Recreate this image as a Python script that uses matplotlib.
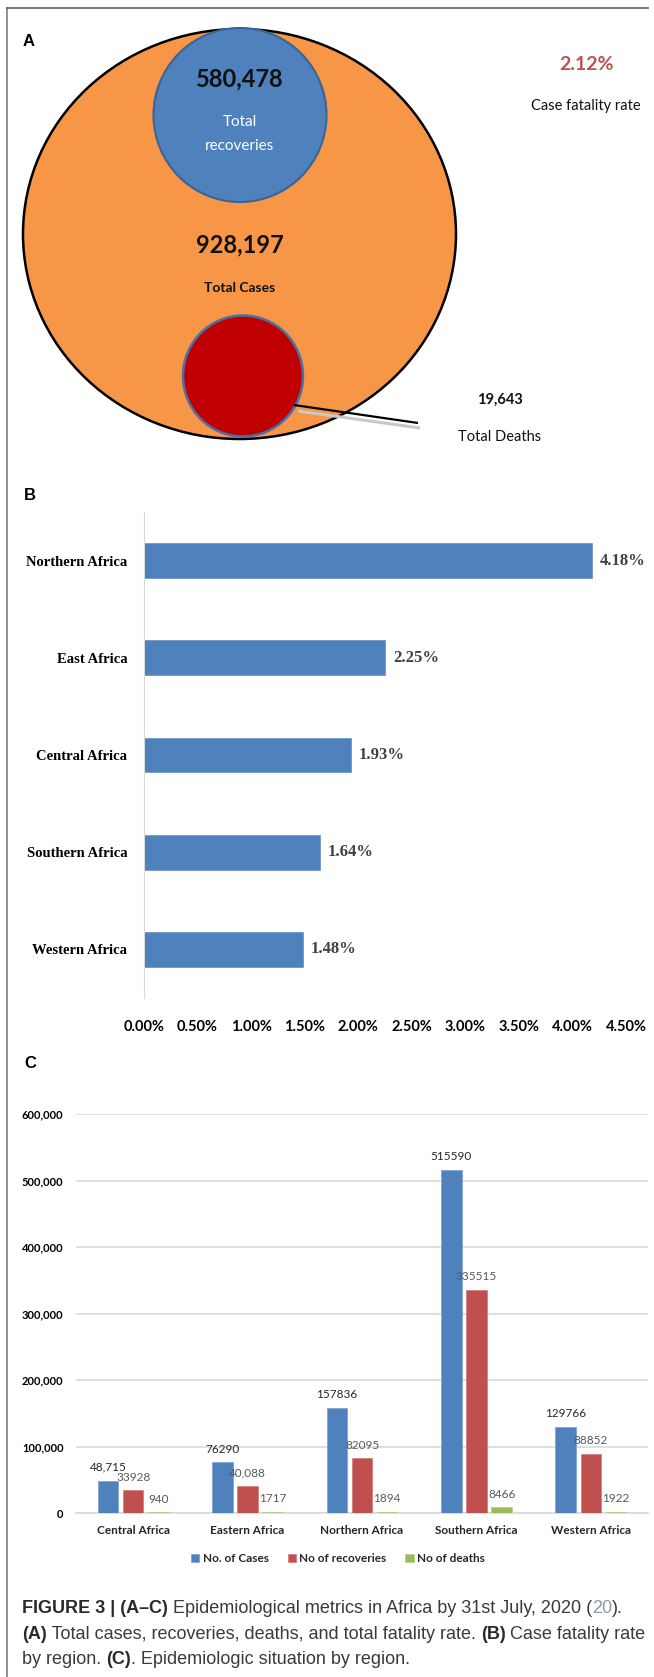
import matplotlib
matplotlib.use('Agg')
import matplotlib.pyplot as plt
from matplotlib.patches import Ellipse
from matplotlib.lines import Line2D
import numpy as np

W, H = 654, 1677
CAL = ['Lato', 'DejaVu Sans']
SERIF = ['Liberation Serif', 'DejaVu Serif']
CAP = ['Liberation Sans', 'DejaVu Sans']

# panel A
total_cases = 928197
total_recoveries = 580478
total_deaths = 19643
case_fatality = 2.12

# panel B
cfr_regions = ['Northern Africa', 'East Africa', 'Central Africa', 'Southern Africa', 'Western Africa']
cfr_values = [4.18, 2.25, 1.93, 1.64, 1.48]
cfr_ticks = [0.0, 0.5, 1.0, 1.5, 2.0, 2.5, 3.0, 3.5, 4.0, 4.5]

# panel C
regions = ['Central Africa', 'Eastern Africa', 'Northern Africa', 'Southern Africa', 'Western Africa']
cases = [48715, 76290, 157836, 515590, 129766]
recoveries = [33928, 40088, 82095, 335515, 88852]
deaths = [940, 1717, 1894, 8466, 1922]
series_names = ['No. of Cases', 'No of recoveries', 'No of deaths']
# which labels the source printed with a thousands separator
comma_cases = [True, False, False, False, False]
comma_recov = [False, True, False, False, False]
comma_deaths = [False, False, False, False, False]
y_ticks = [0, 100000, 200000, 300000, 400000, 500000, 600000]


def px_axes(fig, x0, y0, x1, y1):
    return fig.add_axes([x0 / W, 1 - y1 / H, (x1 - x0) / W, (y1 - y0) / H])


def fmt(v, comma):
    return f'{v:,}' if comma else str(v)


fig = plt.figure(figsize=(W / 100, H / 100), dpi=100)
fig.patch.set_facecolor('white')

# frame lines
fig.add_artist(Line2D([7 / W, 7 / W], [1 - 8 / H, 0], color='#808080', lw=1.2))
fig.add_artist(Line2D([7 / W, 648 / W], [1 - 8 / H, 1 - 8 / H], color='#606060', lw=1.2))

# ---- panel A ----
ax_a = px_axes(fig, 0, 0, W, 460)
ax_a.set_xlim(0, W)
ax_a.set_ylim(460, 0)
ax_a.axis('off')
ax_a.add_patch(Ellipse((239.5, 234), 433, 410, fc='#F79646', ec='black', lw=1.8))
ax_a.add_patch(Ellipse((240, 115), 173, 174, fc='#4F81BD', ec='#3B6496', lw=1.5))
ax_a.add_patch(Ellipse((243, 376), 120, 121, fc='#C00000', ec='#4A6FA5', lw=1.8))
ax_a.plot([298, 420], [411, 428], color='#C8C8C8', lw=2.2, solid_capstyle='butt')
ax_a.plot([294, 418], [405, 423], color='black', lw=1.6, solid_capstyle='butt')

ax_a.text(29, 42, 'A', fontsize=12, weight='bold', family=CAP, ha='center', va='center')
ax_a.text(240, 79, f'{total_recoveries:,}', fontsize=17, weight='bold', family=CAL,
          ha='center', va='center', color='#111111')
ax_a.text(240, 122, 'Total', fontsize=11, family=CAL, ha='center', va='center', color='white')
ax_a.text(240, 146, 'recoveries', fontsize=11, family=CAL, ha='center', va='center', color='white')
ax_a.text(240, 245, f'{total_cases:,}', fontsize=17, weight='bold', family=CAL,
          ha='center', va='center', color='#111111')
ax_a.text(240, 288, 'Total Cases', fontsize=10, weight='bold', family=CAL,
          ha='center', va='center', color='#111111')
ax_a.text(500, 400, f'{total_deaths:,}', fontsize=10.5, weight='bold', family=CAL,
          ha='center', va='center', color='#111111')
ax_a.text(500, 437, 'Total Deaths', fontsize=10.5, family=CAL, ha='center', va='center',
          color='#111111')
ax_a.text(586, 65, f'{case_fatality:.2f}%', fontsize=14, weight='bold', family=CAL,
          ha='center', va='center', color='#C0504D')
ax_a.text(586, 106, 'Case fatality rate', fontsize=10.5, family=CAL, ha='center', va='center',
          color='#111111')

# ---- panel B ----
fig.text(30 / W, 1 - 495 / H, 'B', fontsize=12, weight='bold', family=CAP, ha='center', va='center')
ax_b = px_axes(fig, 144, 512, 626, 998)
pos_b = np.arange(len(cfr_regions))
ax_b.barh(pos_b, cfr_values, height=0.36, color='#4F81BD', edgecolor='#6E98CC', lw=0.6)
ax_b.set_xlim(0, 4.5)
ax_b.set_ylim(len(cfr_regions) - 0.5, -0.5)
ax_b.set_yticks(pos_b)
ax_b.set_yticklabels(cfr_regions, family=SERIF, weight='bold', fontsize=10.5)
ax_b.set_xticks(cfr_ticks)
ax_b.set_xticklabels([f'{t:.2f}%' for t in cfr_ticks], family=CAL, weight='bold', fontsize=10.5)
ax_b.tick_params(axis='both', length=0)
ax_b.tick_params(axis='x', pad=16)
ax_b.tick_params(axis='y', pad=12)
for s in ['top', 'right', 'bottom']:
    ax_b.spines[s].set_visible(False)
ax_b.spines['left'].set_color('#D9D9D9')
for p, v in zip(pos_b, cfr_values):
    ax_b.annotate(f'{v:.2f}%', (v, p), xytext=(6, 0), textcoords='offset points',
                  va='center', ha='left', family=SERIF, weight='bold', fontsize=12,
                  color='#404040')

# ---- panel C ----
fig.text(30 / W, 1 - 1063 / H, 'C', fontsize=12, weight='bold', family=CAP, ha='center', va='center')
ax_c = px_axes(fig, 76, 1114, 648, 1513)
xc = np.arange(len(regions))
off = 0.22
bw = 0.18
colors = ['#4F81BD', '#C0504D', '#9BBB59']
edges = ['#7AA0D0', '#D27A78', '#B5CF85']
groups = [cases, recoveries, deaths]
commas = [comma_cases, comma_recov, comma_deaths]
label_colors = ['#262626', '#595959', '#595959']
for i, (vals, col, ec) in enumerate(zip(groups, colors, edges)):
    xs = xc + (i - 1) * off
    ax_c.bar(xs, vals, width=bw, color=col, edgecolor=ec, lw=0.5,
             label=series_names[i], zorder=3)
    for x, v, cm in zip(xs, vals, commas[i]):
        ax_c.annotate(fmt(v, cm), (x, v), xytext=(0, 9.5), textcoords='offset points',
                      ha='center', va='center', family=CAL, fontsize=8.5,
                      color=label_colors[i], zorder=4)
ax_c.set_xlim(-0.5, len(regions) - 0.5)
ax_c.set_ylim(0, 600000)
ax_c.set_yticks(y_ticks)
ax_c.set_yticklabels([f'{t:,}' for t in y_ticks], family=CAL, weight='bold', fontsize=8)
ax_c.set_xticks(xc)
ax_c.set_xticklabels(regions, family=CAL, weight='bold', fontsize=8.5, color='#262626')
ax_c.tick_params(axis='both', length=0)
ax_c.tick_params(axis='y', pad=9)
ax_c.tick_params(axis='x', pad=9)
ax_c.grid(axis='y', color='#D9D9D9', lw=1.2, zorder=0)
for s in ['top', 'right', 'left']:
    ax_c.spines[s].set_visible(False)
ax_c.spines['bottom'].set_color('#D9D9D9')
ax_c.spines['bottom'].set_linewidth(1.2)
leg = ax_c.legend(loc='center', bbox_to_anchor=(0.458, -0.115), ncol=3, frameon=False,
                  handlelength=0.7, handleheight=0.7, handletextpad=0.3, columnspacing=1.6,
                  prop={'family': CAL, 'weight': 'bold', 'size': 8.5})
for t in leg.get_texts():
    t.set_color('#262626')

# ---- caption ----
renderer = fig.canvas.get_renderer()


def piece_width(txt, weight, size):
    a = fig.text(0, 0, '|' + txt + '|', fontsize=size, weight=weight, family=CAP)
    b = fig.text(0, 0, '||', fontsize=size, weight=weight, family=CAP)
    w = a.get_window_extent(renderer).width - b.get_window_extent(renderer).width
    a.remove()
    b.remove()
    return w


def rich_line(x, y, pieces, size=13):
    for txt, weight, color in pieces:
        fig.text(x / W, 1 - y / H, txt, fontsize=size, weight=weight, color=color,
                 family=CAP, va='baseline', ha='left')
        x += piece_width(txt, weight, size)


TXT = '#3A3A3A'
BLD = '#2A2A2A'
rich_line(22, 1613, [('FIGURE 3 | (A\u2013C)', 'bold', BLD),
                     (' Epidemiological metrics in Africa by 31st July, 2020 (', 'normal', TXT),
                     ('20', 'normal', '#8A9AAA'), (').', 'normal', TXT)])
rich_line(22, 1639, [('(A)', 'bold', BLD),
                     (' Total cases, recoveries, deaths, and total fatality rate. ', 'normal', TXT),
                     ('(B)', 'bold', BLD), (' Case fatality rate', 'normal', TXT)])
rich_line(22, 1664, [('by region. ', 'normal', TXT), ('(C)', 'bold', BLD),
                     ('. Epidemiologic situation by region.', 'normal', TXT)])

fig.savefig('out.png', dpi=100)
